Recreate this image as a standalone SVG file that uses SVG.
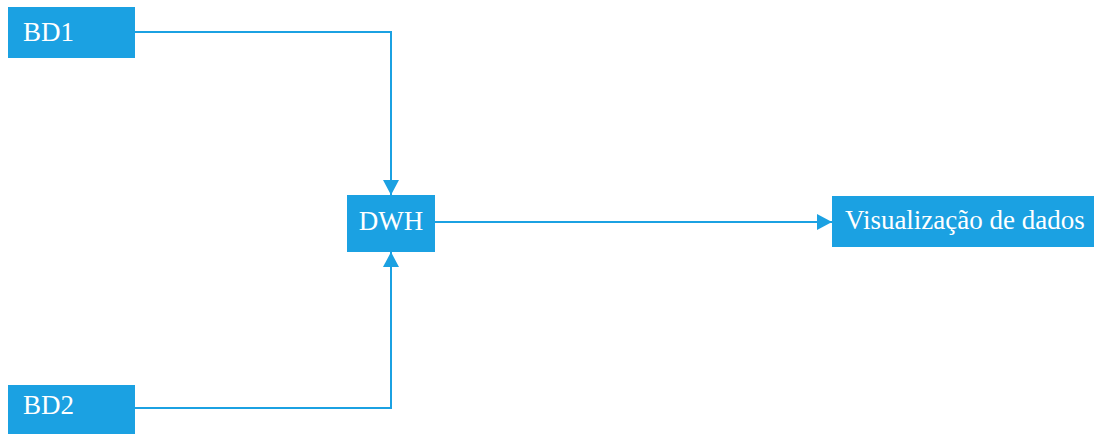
<svg xmlns="http://www.w3.org/2000/svg" width="1094" height="434" viewBox="0 0 1094 434">
  <defs>
    <style>
      .box { fill: #1ba1e2; }
      .label { fill: #ffffff; font-family: "Liberation Serif", "Times New Roman", serif; font-size: 27px; }
      .link { fill: none; stroke: #1ba1e2; stroke-width: 2; }
    </style>
    <marker id="arrow" viewBox="0 0 15 16" refX="15" refY="8" markerWidth="15" markerHeight="16" markerUnits="userSpaceOnUse" orient="auto">
      <path d="M0,0 L15,8 L0,16 Z" fill="#1ba1e2"/>
    </marker>
  </defs>

  <rect width="1094" height="434" fill="#ffffff"/>

  <g id="connectors">
    <path class="link" d="M135,32 H391 V195" marker-end="url(#arrow)"/>
    <path class="link" d="M135,408 H391 V252" marker-end="url(#arrow)"/>
    <path class="link" d="M435,222 H832" marker-end="url(#arrow)"/>
  </g>

  <g id="bd1">
    <rect class="box" x="8" y="7" width="127" height="51"/>
    <text class="label" x="23" y="41">BD1</text>
  </g>

  <g id="bd2">
    <rect class="box" x="8" y="385" width="127" height="51"/>
    <text class="label" x="23" y="414">BD2</text>
  </g>

  <g id="dwh">
    <rect class="box" x="347" y="195" width="88" height="57"/>
    <text class="label" x="391" y="230" text-anchor="middle">DWH</text>
  </g>

  <g id="visualizacao">
    <rect class="box" x="832" y="196" width="262" height="51"/>
    <text class="label" x="845" y="229">Visualização de dados</text>
  </g>
</svg>
